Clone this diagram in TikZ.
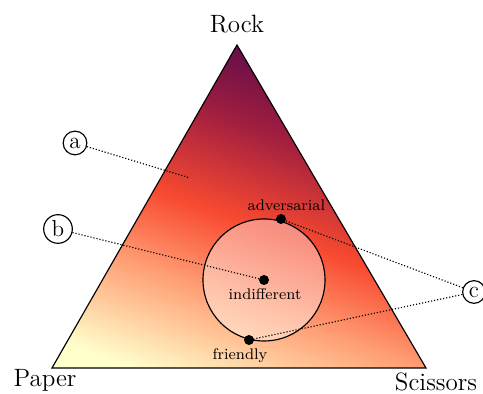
\documentclass[tikz,border=0pt]{standalone}
\usetikzlibrary{positioning}
\definecolor{rpsyellow}{HTML}{FFFFCC}
\definecolor{rpssalmon}{HTML}{FF9C72}
\definecolor{rpsred}{HTML}{F84A30}
\definecolor{rpscrimson}{HTML}{A01E40}
\definecolor{rpsplum}{HTML}{6E1048}
\definecolor{rpspurple}{HTML}{5A0A4A}
\pgfdeclareverticalshading{rpsfield}{100bp}{color(0bp)=(rpsyellow); color(22bp)=(rpsyellow); color(37bp)=(rpssalmon); color(48bp)=(rpsred); color(62bp)=(rpscrimson); color(71bp)=(rpsplum); color(75bp)=(rpspurple); color(100bp)=(rpspurple)}
\tikzset{
  marker/.style={draw,semithick,circle,inner sep=1.5pt,font=\large,fill=white},
  corner/.style={font=\fontsize{13}{15}\selectfont},
  strategy/.style={font=\footnotesize},
  guide/.style={densely dotted,semithick},
}
\begin{document}
\begin{tikzpicture}[scale=0.73]
\useasboundingbox (0,0) rectangle (12.075,9.85);
% corners of the simplex
\coordinate (R) at (5.925,8.725);
\coordinate (P) at (1.3,0.65);
\coordinate (S) at (10.65,0.65);
\shade[shading=rpsfield,shading angle=-20] (R) -- (P) -- (S) -- cycle;
\draw[semithick] (R) -- (P) -- (S) -- cycle;
\node[corner] (rock) at (5.925,9.25) {Rock};
\node[corner] (paper) at (1.125,0.33) {Paper};
\node[corner] (scissors) at (10.9,0.31) {Scissors};
% strategies
\coordinate (ind) at (6.6,2.85);
\coordinate (adv) at (7.025,4.375);
\coordinate (fri) at (6.225,1.35);
\coordinate (aend) at (4.75,5.4);
\draw[semithick,fill=white,fill opacity=0.4] (ind) circle [radius=1.525];
\fill[black] (ind) circle [radius=0.125];
\fill[black] (adv) circle [radius=0.125];
\fill[black] (fri) circle [radius=0.125];
\node[strategy] (advlabel) at (7.16,4.725) {adversarial};
\node[strategy] (indlabel) at (6.625,2.5) {indifferent};
\node[strategy] (frilabel) at (6.0,0.95) {friendly};
% markers
\node[marker] (ma) at (1.875,6.275) {a};
\node[marker] (mb) at (1.45,4.125) {b};
\node[marker] (mc) at (11.85,2.55) {c};
\draw[guide] (ma) -- (aend);
\draw[guide] (mb) -- (ind);
\draw[guide] (mc) -- (adv);
\draw[guide] (mc) -- (fri);
\end{tikzpicture}
\end{document}
